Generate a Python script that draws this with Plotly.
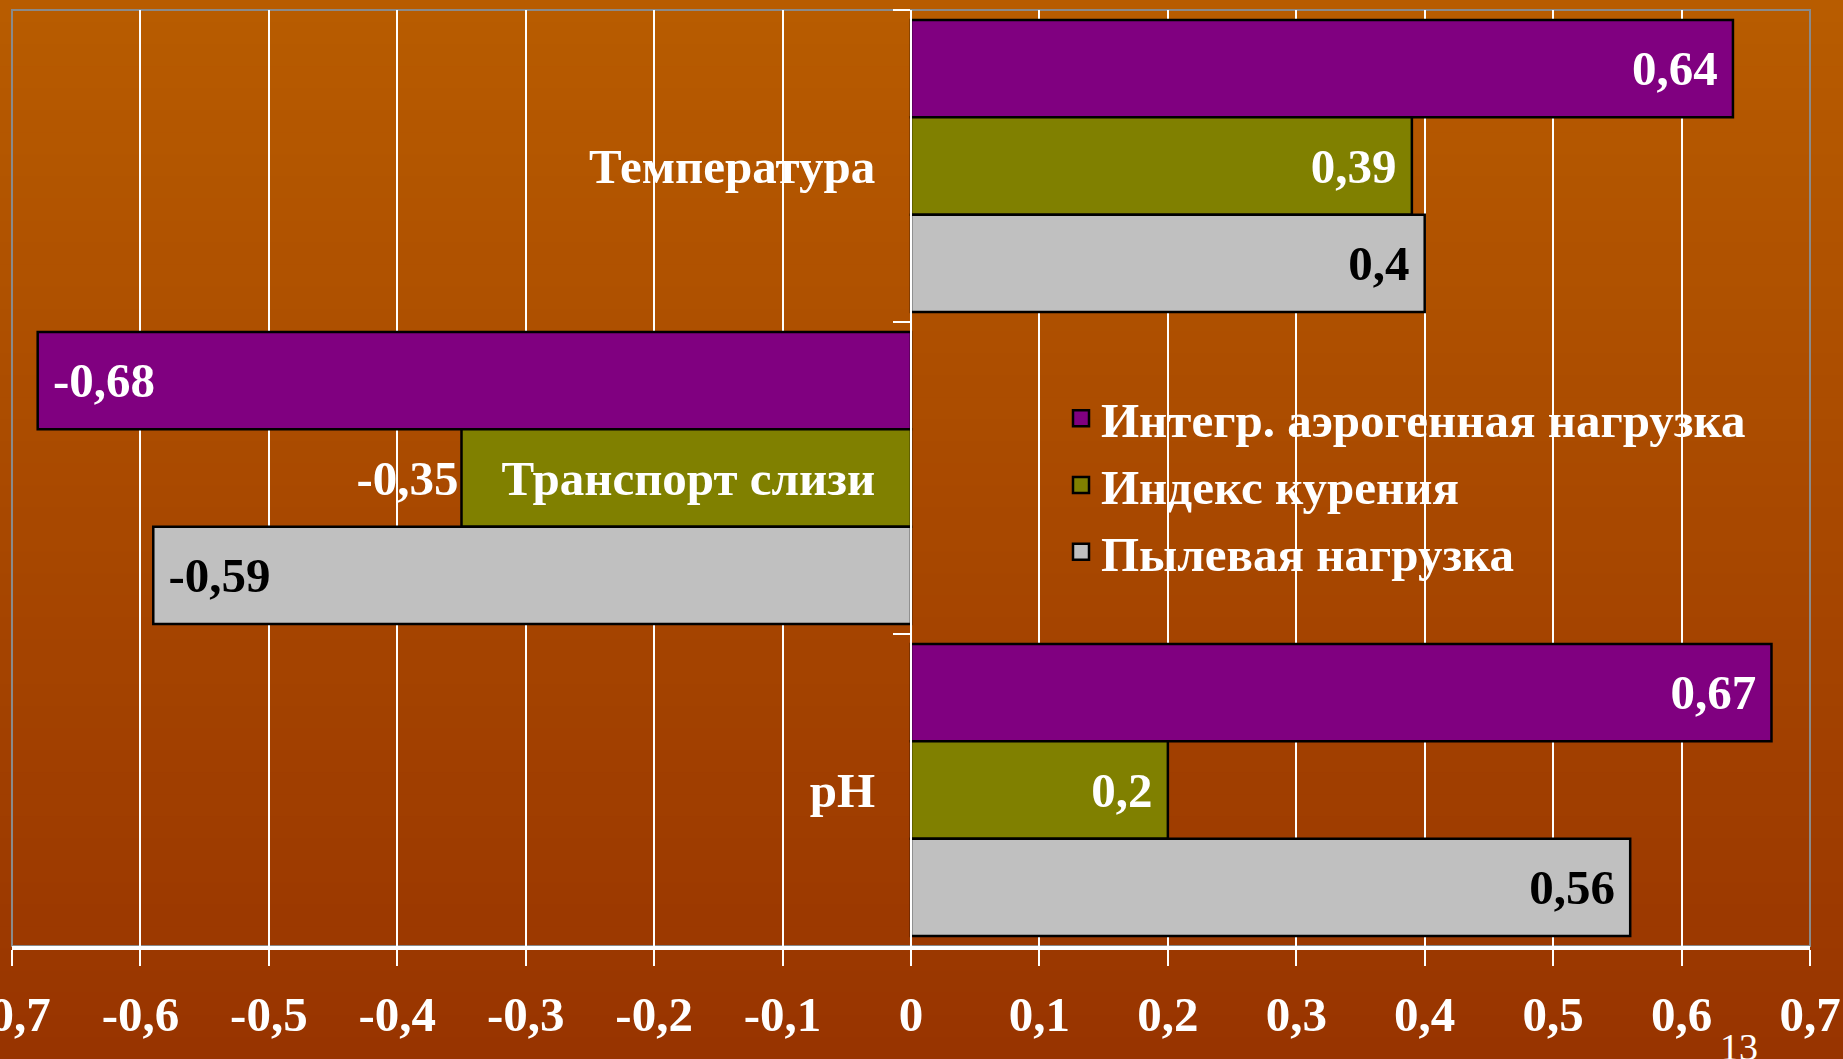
import plotly.graph_objects as go

# ---- data -------------------------------------------------------------
categories = ["Температура", "Транспорт слизи", "pH"]
series_names = ["Интегр. аэрогенная нагрузка", "Индекс курения", "Пылевая нагрузка"]
aerogenic_load = [0.64, -0.68, 0.67]
smoking_index = [0.39, -0.35, 0.20]
dust_load = [0.40, -0.59, 0.56]

x_tick_values = [-0.7, -0.6, -0.5, -0.4, -0.3, -0.2, -0.1, 0.0,
                 0.1, 0.2, 0.3, 0.4, 0.5, 0.6, 0.7]
x_tick_labels = ["-0,7", "-0,6", "-0,5", "-0,4", "-0,3", "-0,2", "-0,1", "0",
                 "0,1", "0,2", "0,3", "0,4", "0,5", "0,6", "0,7"]

# ---- styling ----------------------------------------------------------
W, H = 1843, 1059
M_L, M_R, M_T, M_B = 12, 33, 10, 113
PLOT_W = W - M_L - M_R
PLOT_H = H - M_T - M_B
SERIF = "Liberation Serif"
FS = 49

series_colors = ["#800080", "#808000", "#C0C0C0"]
label_colors = ["white", "white", "black"]
# the middle olive bar keeps its value outside, the category name sits on it
label_positions = [
    ["inside", "inside", "inside"],
    ["inside", "outside", "inside"],
    ["inside", "inside", "inside"],
]
NBSP = "\u00a0"


def fmt(v, pos):
    s = f"{v:g}".replace(".", ",")
    if pos != "inside":
        return s
    # a little breathing room between the value and the bar end
    return s + NBSP if v > 0 else NBSP + s


fig = go.Figure()

for name, values, color, tcolor, tpos in zip(
        series_names, [aerogenic_load, smoking_index, dust_load],
        series_colors, label_colors, label_positions):
    fig.add_trace(go.Bar(
        y=categories, x=values, orientation="h", name=name,
        marker=dict(color=color, line=dict(color="black", width=2.5)),
        text=[fmt(v, p) for v, p in zip(values, tpos)], textposition=tpos,
        insidetextanchor="end",
        insidetextfont=dict(family=SERIF, size=FS, color=tcolor, weight="bold"),
        outsidetextfont=dict(family=SERIF, size=FS, color="white", weight="bold"),
        constraintext="none", cliponaxis=False,
        showlegend=False,
    ))

# legend entries with square swatches
for name, color in zip(series_names, series_colors):
    fig.add_trace(go.Scatter(
        x=[None], y=[None], mode="markers", name=name,
        marker=dict(symbol="square", size=16, color=color,
                    line=dict(color="black", width=2.5)),
        showlegend=True,
    ))


# ---- background: warm vertical gradient over the whole slide ----------
def px_to_py(py):
    return (H - M_B - py) / PLOT_H


def px_to_px(px):
    return (px - M_L) / PLOT_W


top_rgb = (184, 92, 0)
bot_rgb = (152, 52, 0)
n_bands = 48
shapes = []
for i in range(n_bands):
    t = (i + 0.5) / n_bands
    c = tuple(round(a + (b - a) * t) for a, b in zip(top_rgb, bot_rgb))
    y_top = H * i / n_bands
    y_bot = H * (i + 1) / n_bands + 1
    shapes.append(dict(
        type="rect", xref="paper", yref="paper", layer="below",
        x0=px_to_px(-2), x1=px_to_px(W + 2),
        y0=px_to_py(y_bot), y1=px_to_py(y_top),
        fillcolor=f"rgb{c}", line=dict(width=0),
    ))
# thin grey frame round the plotting area
shapes.append(dict(
    type="rect", xref="paper", yref="paper", layer="below",
    x0=0, x1=1, y0=0, y1=1, line=dict(color="#8a8a8a", width=2),
    fillcolor="rgba(0,0,0,0)",
))

fig.update_layout(
    width=W, height=H,
    margin=dict(l=M_L, r=M_R, t=M_T, b=M_B, pad=0, autoexpand=False),
    paper_bgcolor="#A84800",
    plot_bgcolor="rgba(0,0,0,0)",
    barmode="group", bargap=0.064, bargroupgap=0,
    shapes=shapes,
    font=dict(family=SERIF, color="white"),
    xaxis=dict(
        range=[-0.7, 0.7], tickmode="array",
        tickvals=x_tick_values, ticktext=x_tick_labels,
        ticklabeloverflow="allow", ticklabelstandoff=6, automargin=False,
        showgrid=True, gridcolor="white", gridwidth=2,
        zeroline=True, zerolinecolor="white", zerolinewidth=2,
        showline=True, linecolor="white", linewidth=4,
        ticks="outside", ticklen=16, tickwidth=2, tickcolor="white",
        tickfont=dict(family=SERIF, size=FS, color="white", weight="bold"),
        fixedrange=True,
    ),
    yaxis=dict(
        type="category", categoryorder="array", categoryarray=categories,
        autorange="reversed", automargin=False,
        anchor="free", position=0.5, side="left",
        showline=True, linecolor="white", linewidth=2,
        ticks="outside", tickson="boundaries", ticklen=17, tickwidth=2,
        tickcolor="white", showgrid=False, zeroline=False,
        ticklabelstandoff=25,
        tickfont=dict(family=SERIF, size=FS, color="white", weight="bold"),
        fixedrange=True,
    ),
    legend=dict(
        x=px_to_px(1061), y=px_to_py(380), xanchor="left", yanchor="top",
        bgcolor="rgba(0,0,0,0)", borderwidth=0,
        font=dict(family=SERIF, size=FS, color="white", weight="bold"),
        itemclick=False, itemdoubleclick=False,
    ),
    annotations=[dict(
        text="13", xref="paper", yref="paper",
        x=px_to_px(1739), y=px_to_py(1024), xanchor="center", yanchor="top",
        showarrow=False, font=dict(family=SERIF, size=38, color="white"),
    )],
)

fig.write_html(
    "out.html", config=dict(displayModeBar=False),
    post_script="document.body.style.margin='0';document.body.style.overflow='hidden';",
)
